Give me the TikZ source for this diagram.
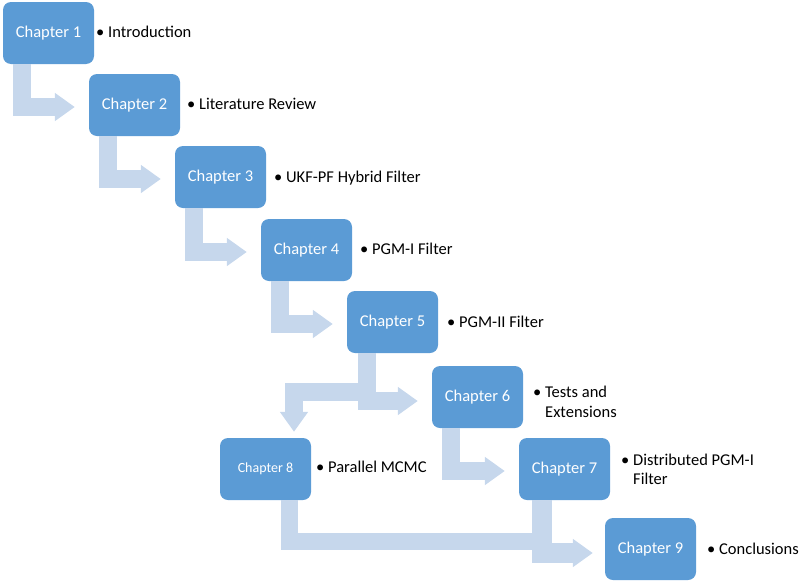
\documentclass[tikz,border=0pt]{standalone}
\usepackage{fontspec}
\setmainfont{Carlito}
\usetikzlibrary{arrows.meta,calc}
\definecolor{boxc}{HTML}{5B9BD5}
\definecolor{arrc}{HTML}{C6D7EC}
\tikzset{
  chap/.style={rectangle, rounded corners=8pt, fill=boxc, minimum width=91pt, minimum height=62pt,
    inner sep=0pt, text=white, font=\fontsize{16.5}{20}\selectfont},
  bul/.style={anchor=base west, inner sep=0pt, text=black, font=\fontsize{16.5}{20}\selectfont},
  arr/.style={draw=arrc, line width=18pt, line join=miter, -{Triangle[width=27pt,length=20pt]}},
  arrline/.style={draw=arrc, line width=17pt, line join=miter},
}
\begin{document}
\begin{tikzpicture}[x=1pt,y=-1pt]
\useasboundingbox (0,0) rectangle (800,581);
% boxes
\node[chap] (c1) at (48.5,33) {Chapter 1};
\node[chap] (c2) at (134.5,105) {Chapter 2};
\node[chap] (c3) at (220.5,177) {Chapter 3};
\node[chap] (c4) at (306.5,250) {Chapter 4};
\node[chap] (c5) at (392.5,322) {Chapter 5};
\node[chap] (c6) at (477.5,397) {Chapter 6};
\node[chap] (c7) at (564.5,469) {Chapter 7};
\node[chap, font=\fontsize{14}{17}\selectfont] (c8) at (265.5,469) {Chapter 8};
\node[chap] (c9) at (650.5,549) {Chapter 9};
% connectors
\draw[arr] ($(c1.south west)+(19,0)$) |- ($(c2.west)+(-14,2)$);
\draw[arr] ($(c2.south west)+(19,0)$) |- ($(c3.west)+(-14,2)$);
\draw[arr] ($(c3.south west)+(19,0)$) |- ($(c4.west)+(-14,2)$);
\draw[arr] ($(c4.south west)+(19,0)$) |- ($(c5.west)+(-14,2)$);
\draw[arr] ($(c5.south west)+(20,0)$) |- ($(c6.west)+(-14,4)$);
\draw[arr] ($(c5.south west)+(20,39)$) -| ($(c8.north)+(28.5,-6)$);
\draw[arr] ($(c6.south west)+(19,0)$) |- ($(c7.west)+(-14,2)$);
\coordinate (m) at ($(c7.south west)+(23,41.5)$);
\draw[arrline] ($(c8.south)+(23.5,0)$) |- (m);
\draw[arr, line width=20pt] ($(c7.south west)+(23,0)$) |- ($(c9.west)+(-12,4)$);
% labels
\node[bul] (t1) at (96,37) {•~Introduction};
\node[bul] (t2) at (187,109) {•~Literature Review};
\node[bul] (t3) at (274,182) {•~UKF-PF Hybrid Filter};
\node[bul] (t4) at (360,254) {•~PGM-I Filter};
\node[bul] (t5) at (447,327) {•~PGM-II Filter};
\node[bul] (t6) at (533,397.5) {•~Tests and};
\node[bul] (t6b) at (545,417) {Extensions};
\node[bul] (t7) at (621,465.5) {•~Distributed PGM-I};
\node[bul] (t7b) at (633,484) {Filter};
\node[bul] (t8) at (316,472) {•~Parallel MCMC};
\node[bul] (t9) at (707,554) {•~Conclusions};
\end{tikzpicture}
\end{document}
